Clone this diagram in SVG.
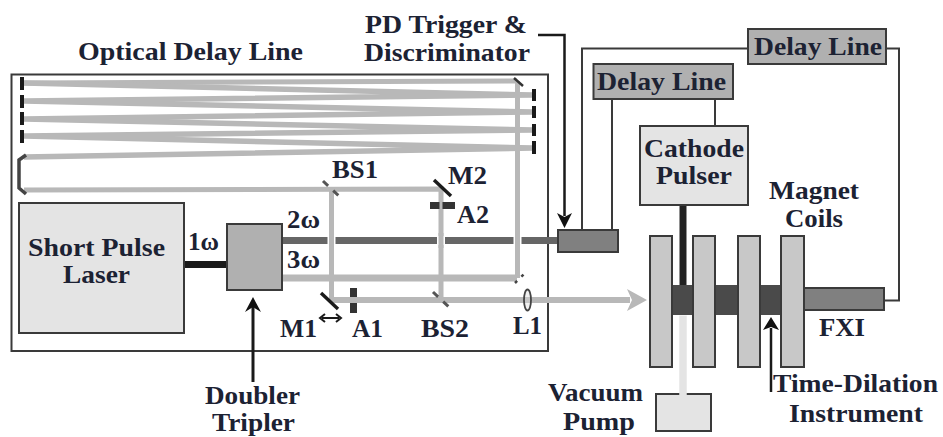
<svg xmlns="http://www.w3.org/2000/svg" width="943" height="437" viewBox="0 0 943 437">
<style>
text{font-family:"Liberation Serif","Times New Roman",serif;font-weight:bold;font-size:26px;fill:#1c2233;text-anchor:middle}
.b{fill:none;stroke:#b8b8b8}
.e{stroke:#3a3a3a;stroke-width:2}
.w{fill:none;stroke:#3a3a3a;stroke-width:2}
.k{fill:none;stroke:#1a1a1a}
.ah{fill:#111}
</style>
<rect width="943" height="437" fill="#fff"/>
<g id="enclosure"><rect x="11.500" y="74.500" width="536.500" height="276.500" class="w"/></g>
<g id="connectors">
<g id="beams">
<path class="b" stroke-width="5" d="M517 81 L24 83"/>
<path class="b" stroke-width="5.500" d="M24 83 L533 95 L24 101 L533 112 L24 119 L533 130 L24 136 L533 148 L24 157"/>
<path class="b" stroke-width="5" d="M24 190 L441 189 V297"/>
<path class="b" stroke-width="5" d="M331.500 189 V300"/>
<path class="b" stroke-width="5" d="M517.500 81 V278"/>
<path class="b" stroke-width="7" d="M282 278 H517"/>
<path fill="none" stroke="#666" stroke-width="7" d="M282 240.500 H558"/>
<path fill="none" stroke="#fff" stroke-width="8" d="M331.500 236 V245 M441 236 V245 M517.500 236 V245"/>
<path class="b" stroke-width="5" d="M331.500 233 V248 M441 233 V248 M517.500 233 V248"/>
<path class="b" stroke-width="6" d="M331 300 H630"/>
<polygon points="647,300 627,289 632,300 627,311" fill="#b8b8b8"/>
<path fill="none" stroke="#1a1a1a" stroke-width="7" d="M184 264.500 H227"/>
<path fill="none" stroke="#222" stroke-width="7" d="M683 202 V285"/>
</g>
<path class="w" d="M582 230 V48.500 H748 M886 48.500 H899 V300.500 H884 M612 230 V99 M715 99 V126"/>
<path class="k" stroke-width="2.500" d="M538 35 H564.500 V216"/>
<polygon class="ah" points="564.500,228 557,213 564.500,217 572,213"/>
<path class="k" stroke-width="3" d="M253 382 V306"/>
<polygon class="ah" points="253,297 245,312 253,307 261,312"/>
<path class="k" stroke-width="2.500" d="M771 392 V328"/>
<polygon class="ah" points="771,317 763,330 771,327 779,330"/>
<path class="k" stroke-width="2" d="M322 318 H339"/>
<path class="k" stroke-width="2" d="M325 314 L320 318 L325 322 M336 314 L341 318 L336 322"/>
</g>
<g id="optics">
<g id="mirror-left" fill="#1a1a1a"><rect x="20" y="77" width="4" height="13"/><rect x="20" y="95" width="4" height="13"/><rect x="20" y="112" width="4" height="13"/><rect x="20" y="130" width="4" height="13"/></g>
<g id="mirror-right" fill="#1a1a1a"><rect x="532" y="89" width="4" height="12"/><rect x="532" y="106" width="4" height="12"/><rect x="532" y="124" width="4" height="12"/><rect x="532" y="141" width="4" height="13"/></g>
<path id="mirror-retro" fill="none" stroke="#444" stroke-width="3.500" d="M26 155 L19 160 V188 L26 194"/>
<path id="mirror-top" fill="none" stroke="#333" stroke-width="2.500" d="M514 78 L523 86"/>
<path id="BS1-mirror" fill="none" stroke="#555" stroke-width="3" stroke-dasharray="7 7" d="M323 181 L340 197"/>
<path id="M2-mirror" fill="none" stroke="#1a1a1a" stroke-width="3.500" d="M434 180 L451 196"/>
<path id="A2-stop" fill="none" stroke="#333" stroke-width="7" d="M430 205.500 H439.500 M442.500 205.500 H455"/>
<path id="M1-mirror" fill="none" stroke="#1a1a1a" stroke-width="3.500" d="M321 293 L338 309"/>
<path id="A1-stop" fill="none" stroke="#333" stroke-width="7" d="M353.500 288 V297 M353.500 303 V313"/>
<path id="BS2-mirror" fill="none" stroke="#555" stroke-width="3" stroke-dasharray="7 7" d="M433 292 L450 308"/>
<path id="mirror-3w" fill="none" stroke="#444" stroke-width="2.500" stroke-dasharray="3 6" d="M515 283 L524 274"/>
<ellipse id="L1-lens" cx="527.500" cy="300" rx="3.500" ry="10.500" fill="#ddd" fill-opacity=".4" stroke="#444" stroke-width="1.800"/>
</g>
<g id="laser"><rect x="19" y="203" width="165" height="130" fill="#e4e4e4" class="e"/><text x="96.500" y="256" textLength="137" lengthAdjust="spacingAndGlyphs">Short Pulse</text><text x="96.500" y="283" textLength="67" lengthAdjust="spacingAndGlyphs">Laser</text></g>
<g id="doubler-tripler"><rect x="227" y="224" width="55" height="66" fill="#b0b0b0" class="e"/></g>
<g id="pd-trigger"><rect x="558" y="230" width="60" height="22" fill="#808080" class="e"/></g>
<g id="delay-line-1"><rect x="593.500" y="64" width="139.500" height="35" fill="#b0b0b0" class="e"/><text x="661.500" y="90" textLength="129" lengthAdjust="spacingAndGlyphs">Delay Line</text></g>
<g id="delay-line-2"><rect x="748" y="29" width="138" height="35" fill="#b0b0b0" class="e"/><text x="818" y="55" textLength="128" lengthAdjust="spacingAndGlyphs">Delay Line</text></g>
<g id="cathode-pulser"><rect x="640" y="126" width="108" height="79" fill="#e4e4e4" class="e"/><text x="694" y="157" textLength="100" lengthAdjust="spacingAndGlyphs">Cathode</text><text x="694" y="184" textLength="76" lengthAdjust="spacingAndGlyphs">Pulser</text></g>
<g id="tube"><rect x="672" y="285" width="109" height="30" fill="#4a4a4a"/><rect x="804" y="288" width="80" height="22" fill="#808080" class="e"/></g>
<g id="magnet-coils"><rect x="650" y="236" width="22" height="131" fill="#c8c8c8" class="e"/><rect x="693" y="236" width="22" height="131" fill="#c8c8c8" class="e"/><rect x="738" y="236" width="22" height="131" fill="#c8c8c8" class="e"/><rect x="781" y="236" width="23" height="131" fill="#c8c8c8" class="e"/></g>
<g id="vacuum-pump"><rect x="656" y="394" width="55" height="37" fill="#e4e4e4" class="e"/><path fill="none" stroke="#e4e4e4" stroke-width="7.500" d="M683 315.500 V396"/></g>
<g id="labels">
<text x="190.500" y="60" textLength="225" lengthAdjust="spacingAndGlyphs">Optical Delay Line</text>
<text x="446" y="33" textLength="162" lengthAdjust="spacingAndGlyphs">PD Trigger &amp;</text>
<text x="447" y="61" textLength="166" lengthAdjust="spacingAndGlyphs">Discriminator</text>
<text x="355" y="178" textLength="46" lengthAdjust="spacingAndGlyphs">BS1</text>
<text x="467.500" y="184" textLength="39" lengthAdjust="spacingAndGlyphs">M2</text>
<text x="473" y="223" textLength="32" lengthAdjust="spacingAndGlyphs">A2</text>
<text x="203.500" y="250" textLength="31" lengthAdjust="spacingAndGlyphs">1ω</text>
<text x="303.500" y="228" textLength="33" lengthAdjust="spacingAndGlyphs">2ω</text>
<text x="303.500" y="268" textLength="33" lengthAdjust="spacingAndGlyphs">3ω</text>
<text x="298.500" y="337" textLength="37" lengthAdjust="spacingAndGlyphs">M1</text>
<text x="367.500" y="337" textLength="31" lengthAdjust="spacingAndGlyphs">A1</text>
<text x="445" y="337" textLength="48" lengthAdjust="spacingAndGlyphs">BS2</text>
<text x="527.500" y="334" textLength="29" lengthAdjust="spacingAndGlyphs">L1</text>
<text x="252.500" y="404" textLength="95" lengthAdjust="spacingAndGlyphs">Doubler</text>
<text x="253.500" y="431" textLength="83" lengthAdjust="spacingAndGlyphs">Tripler</text>
<text x="814" y="199" textLength="90" lengthAdjust="spacingAndGlyphs">Magnet</text>
<text x="814" y="227" textLength="58" lengthAdjust="spacingAndGlyphs">Coils</text>
<text x="842" y="336" textLength="46" lengthAdjust="spacingAndGlyphs">FXI</text>
<text x="855.500" y="392" textLength="165" lengthAdjust="spacingAndGlyphs">Time-Dilation</text>
<text x="856" y="422" textLength="134" lengthAdjust="spacingAndGlyphs">Instrument</text>
<text x="595.500" y="401" textLength="95" lengthAdjust="spacingAndGlyphs">Vacuum</text>
<text x="599" y="430" textLength="72" lengthAdjust="spacingAndGlyphs">Pump</text>
</g>
</svg>
